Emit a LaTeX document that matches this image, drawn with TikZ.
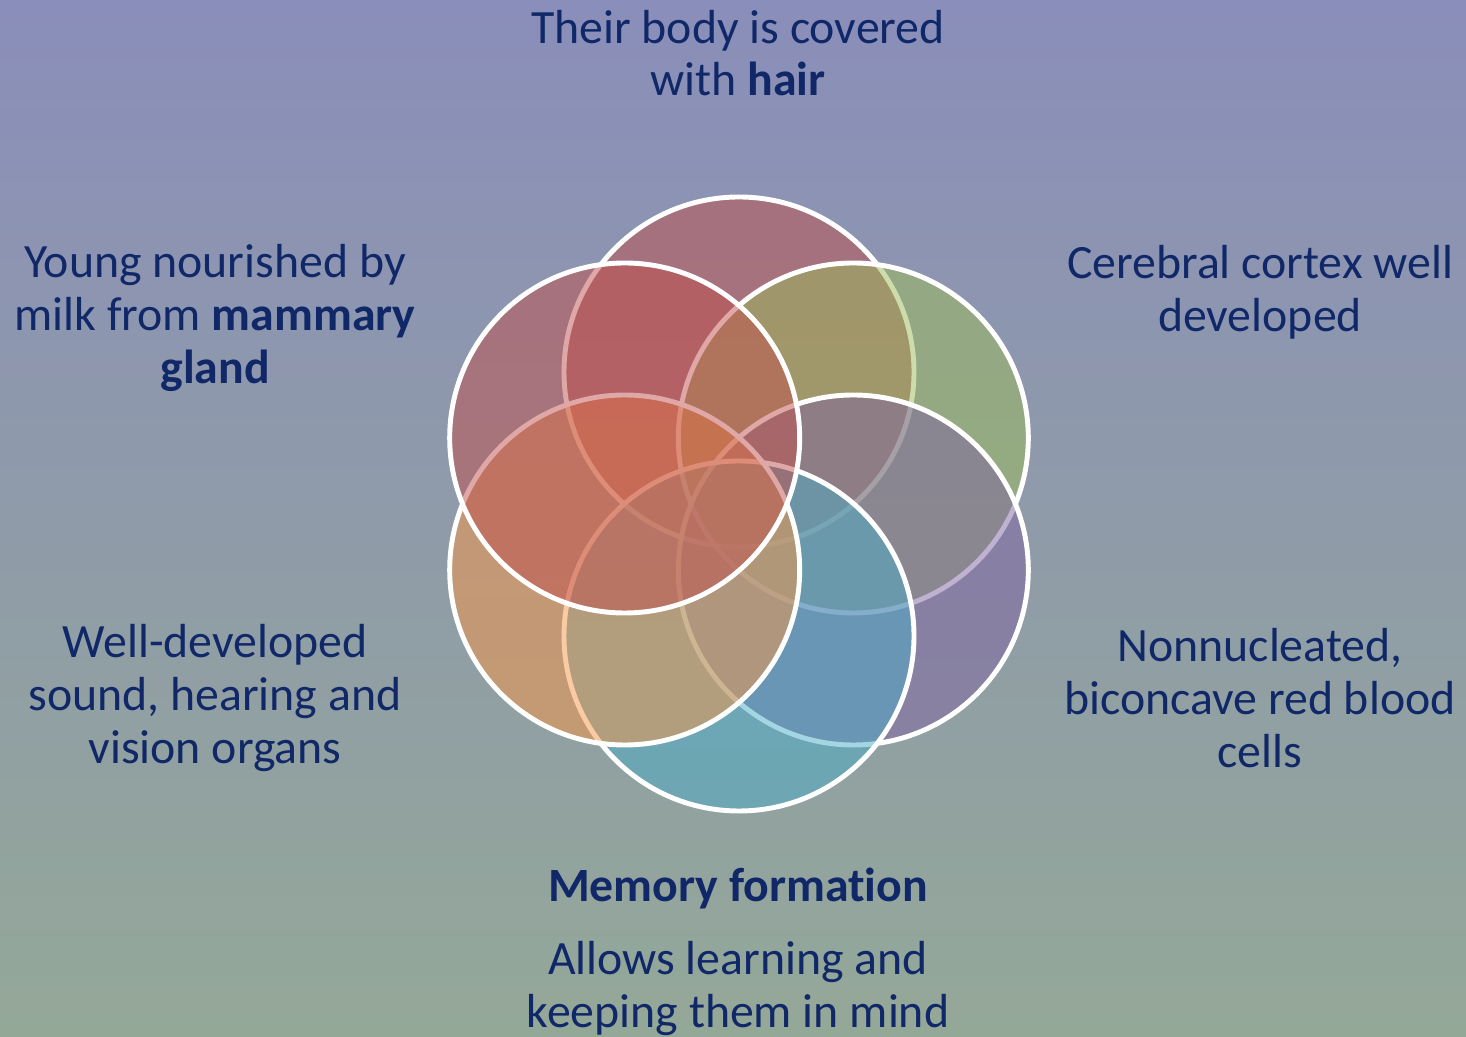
\documentclass[tikz,border=0pt]{standalone}
\usepackage{fontspec}
\setmainfont{Carlito}[Ligatures=NoCommon]
\usetikzlibrary{calc}
\definecolor{bgtop}{RGB}{138,142,186}
\definecolor{bgmid}{RGB}{143,156,170}
\definecolor{bgbot}{RGB}{148,168,152}
\definecolor{ink}{RGB}{16,40,104}
\definecolor{cred}{HTML}{C0504D}
\definecolor{cgreen}{HTML}{9BBB59}
\definecolor{cpurple}{HTML}{8064A2}
\definecolor{caqua}{HTML}{4BACC6}
\definecolor{corange}{HTML}{F79646}
\begin{document}
\begin{tikzpicture}
            \tikzset{
                petal/.style={circle,draw=white,line width=1.4pt,fill opacity=0.5,minimum size=3.5cm,inner sep=0pt},
                label/.style={text=ink,align=center,font=\fontsize{13.6}{15}\selectfont}}
            \clip (0,0) rectangle (14.66,10.36);
            \shade [top color=bgtop,middle color=bgmid,bottom color=bgbot] (0,0) rectangle (14.66,10.36);
            \coordinate (hub) at (7.39,5.32);
            % six overlapping circles round the middle
            \node [petal,fill=cred]    (hair)    at ($(hub)+(90:1.32)$)  {};
            \node [petal,fill=cgreen]  (cortex)  at ($(hub)+(30:1.32)$)  {};
            \node [petal,fill=cpurple] (blood)   at ($(hub)+(-30:1.32)$) {};
            \node [petal,fill=caqua]   (memory)  at ($(hub)+(-90:1.32)$) {};
            \node [petal,fill=corange] (organs)  at ($(hub)+(-150:1.32)$){};
            \node [petal,fill=cred]    (milk)    at ($(hub)+(150:1.32)$) {};
            \node [label] (hairtxt)   at (7.38,9.83) {Their body is covered\\with \textbf{hair}};
            \node [label] (cortextxt) at (12.60,7.44) {Cerebral cortex well\\developed};
            \node [label] (milktxt)   at (2.15,7.18) {Young nourished by\\milk from \textbf{mammary}\\\textbf{gland}};
            \node [label] (organtxt)  at (2.15,3.38) {Well-developed\\sound, hearing and\\vision organs};
            \node [label] (bloodtxt)  at (12.60,3.38) {Nonnucleated,\\biconcave red blood\\cells};
            \node [label,font=\fontsize{13.6}{15}\selectfont\bfseries] (memtitle) at (7.38,1.48) {Memory formation};
            \node [label] (memtxt)    at (7.38,0.475) {Allows learning and\\keeping them in mind};
        \end{tikzpicture}
\end{document}
